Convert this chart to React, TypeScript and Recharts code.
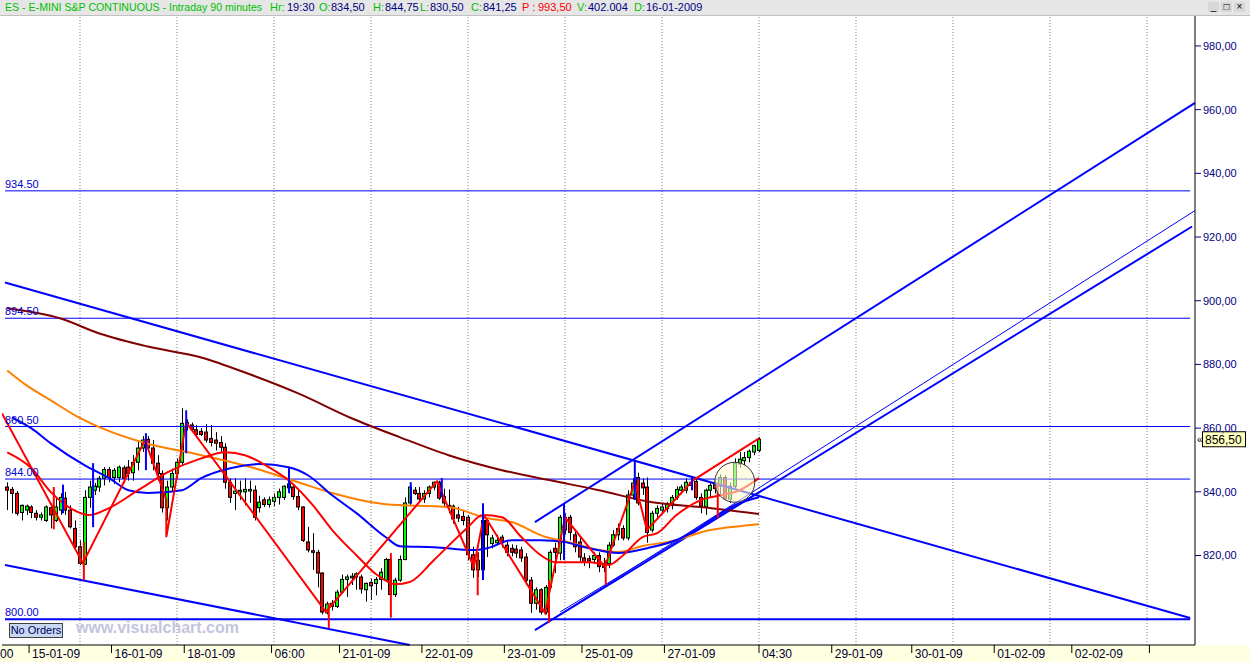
import React from "react";
import {
  ComposedChart,
  Bar,
  Line,
  XAxis,
  YAxis,
  ReferenceLine,
  ReferenceDot,
} from "recharts";

// bar index range and price range of the plot
const X_MIN = -1.08;
const X_MAX = 244.9;
const Y_MIN = 791.9;
const Y_MAX = 989.4;

// ES 90 minute bars
const opens = [
  841.5, 840.75, 839.5, 833.5, 834.25, 835.25, 833.25, 832.0, 831.0, 835.0,
  831.0, 834.25, 838.0, 834.25, 828.5, 822.75, 817.25, 838.25, 840.5, 841.5,
  844.25, 847.0, 844.5, 844.5, 847.5, 847.75, 846.0, 849.25, 853.75, 856.5,
  853.75, 849.0, 845.75, 835.0, 841.5, 845.75, 849.25, 861.75, 861.0, 859.5,
  859.0, 858.75, 856.75, 856.25, 855.5, 854.0, 843.0, 839.5, 840.0, 840.0,
  840.25, 840.5, 835.0, 837.5, 836.0, 837.0, 838.25, 838.25, 841.25, 841.5,
  838.5, 835.25, 824.25, 821.5, 821.0, 814.5, 802.0, 804.0, 804.0, 808.5,
  812.5, 813.0, 813.25, 813.25, 809.25, 811.5, 811.25, 812.5, 812.25, 818.75,
  807.75, 812.25, 818.75, 836.5, 840.5, 839.5, 837.75, 839.5, 841.5, 843.0,
  838.5, 835.75, 835.5, 832.75, 832.25, 832.0, 820.25, 815.5, 815.5, 831.0,
  823.75, 824.0, 825.75, 823.25, 822.25, 822.0, 821.75, 819.5, 812.25, 805.0,
  809.25, 802.25, 810.0, 822.25, 820.75, 832.0, 832.0, 826.5, 824.25, 819.25,
  819.0, 818.75, 820.0, 817.5, 817.5, 823.25, 826.5, 828.5, 825.5, 839.0,
  844.5, 842.75, 841.5, 828.0, 833.25, 834.25, 834.75, 835.75, 838.25, 840.5,
  840.5, 843.0, 843.25, 838.25, 835.25, 840.5, 842.25, 841.75, 844.5, 837.75,
  841.75, 848.75, 849.75, 850.75, 852.5, 853.0,
];
const highs = [
  843.0, 841.5, 840.25, 836.0, 836.0, 835.75, 834.25, 833.5, 835.75, 836.5,
  838.25, 839.5, 840.0, 835.75, 831.0, 824.75, 840.5, 843.5, 842.75, 845.0,
  847.75, 847.75, 847.5, 848.25, 848.25, 850.0, 851.5, 856.25, 857.5, 857.5,
  856.25, 851.5, 846.75, 843.5, 847.25, 850.5, 866.25, 862.75, 861.75, 861.0,
  860.0, 861.25, 861.0, 858.75, 857.5, 855.25, 844.25, 844.25, 843.5, 844.25,
  843.5, 842.0, 838.75, 838.25, 838.5, 839.5, 841.0, 842.0, 843.0, 842.0,
  840.5, 835.5, 829.0, 827.0, 821.75, 814.75, 805.5, 806.0, 809.25, 814.0,
  814.0, 814.5, 814.75, 814.0, 811.5, 812.75, 813.25, 816.0, 819.25, 820.0,
  813.0, 820.0, 838.25, 843.0, 841.5, 841.5, 840.5, 842.0, 843.25, 843.5,
  841.0, 840.75, 836.0, 835.25, 834.25, 832.75, 822.75, 821.0, 834.25, 831.75,
  826.5, 826.5, 826.5, 824.25, 823.5, 823.25, 822.75, 820.75, 813.25, 810.0,
  809.75, 810.75, 821.75, 824.0, 832.75, 833.25, 832.75, 828.0, 825.5, 820.75,
  820.0, 821.0, 821.0, 819.25, 824.25, 828.0, 830.0, 829.5, 840.5, 844.25,
  846.0, 844.25, 844.5, 834.0, 835.75, 836.5, 836.75, 839.0, 841.75, 842.25,
  844.25, 844.25, 844.25, 839.5, 841.0, 843.0, 843.5, 845.5, 845.25, 843.0,
  850.5, 852.5, 852.5, 853.25, 854.75, 857.25,
];
const lows = [
  834.25, 833.25, 832.5, 831.0, 832.75, 831.75, 831.0, 831.0, 830.5, 828.5,
  830.5, 832.75, 832.75, 828.5, 822.25, 817.0, 817.0, 835.0, 839.0, 840.0,
  842.0, 843.0, 842.5, 843.0, 842.75, 843.5, 843.5, 846.75, 852.5, 853.0,
  846.75, 843.5, 833.5, 831.0, 840.0, 844.25, 848.25, 859.25, 858.75, 857.0,
  857.5, 855.5, 854.25, 853.0, 852.5, 841.0, 836.5, 834.25, 837.5, 835.75,
  836.5, 831.0, 833.5, 835.25, 835.0, 835.5, 836.0, 837.5, 839.5, 837.5,
  834.25, 824.25, 821.0, 815.5, 810.0, 801.5, 801.5, 802.75, 803.5, 808.0,
  807.0, 810.75, 809.25, 808.0, 805.5, 806.0, 807.5, 809.25, 811.75, 807.25,
  807.0, 811.75, 818.5, 835.75, 839.0, 836.5, 836.5, 838.25, 840.5, 837.5,
  835.25, 833.25, 830.0, 830.5, 829.5, 818.5, 813.0, 813.25, 814.75, 819.5,
  822.25, 823.25, 822.5, 819.75, 819.75, 819.25, 818.0, 810.75, 802.0, 803.0,
  801.5, 801.5, 809.25, 814.5, 818.5, 826.5, 824.75, 821.0, 818.0, 816.75,
  816.0, 817.5, 814.75, 814.75, 816.0, 822.75, 824.75, 824.75, 824.75, 838.0,
  835.75, 839.0, 824.0, 827.25, 832.0, 833.0, 833.5, 834.5, 837.5, 839.25,
  839.5, 840.5, 837.5, 833.25, 832.75, 838.25, 839.5, 839.0, 837.5, 836.5,
  841.0, 847.5, 848.25, 849.25, 851.5, 852.5,
];
const closes = [
  840.5, 839.5, 833.25, 835.75, 835.5, 833.5, 832.0, 832.75, 835.25, 832.75,
  835.25, 838.25, 834.25, 829.0, 822.75, 817.5, 838.25, 841.5, 841.75, 844.25,
  847.0, 844.5, 846.75, 847.75, 844.25, 845.75, 849.25, 853.75, 856.25, 853.75,
  849.0, 845.75, 835.0, 841.5, 845.75, 849.25, 861.5, 860.5, 859.5, 858.0,
  858.0, 856.25, 855.5, 855.25, 854.0, 843.0, 838.25, 840.25, 840.5, 840.75,
  840.75, 832.0, 836.75, 836.0, 837.5, 838.25, 840.0, 841.75, 842.5, 838.5,
  835.25, 824.75, 821.75, 821.0, 814.5, 802.25, 804.75, 805.0, 808.5, 812.5,
  813.25, 813.5, 814.25, 809.5, 811.25, 810.5, 812.5, 814.75, 818.75, 807.75,
  812.25, 818.75, 836.5, 841.5, 839.5, 837.75, 839.5, 841.5, 843.0, 838.0,
  836.5, 835.25, 831.5, 831.75, 831.0, 820.25, 815.5, 818.5, 831.0, 826.5,
  825.5, 824.75, 824.0, 821.0, 821.0, 820.75, 819.25, 812.25, 805.0, 809.25,
  802.25, 810.0, 821.0, 821.0, 832.0, 828.0, 827.25, 822.75, 819.5, 818.0,
  818.25, 820.0, 816.5, 816.25, 823.25, 826.5, 828.5, 825.5, 839.0, 842.75,
  836.5, 841.25, 827.25, 833.25, 834.75, 835.25, 836.0, 838.25, 840.75, 841.5,
  843.0, 842.0, 838.25, 835.5, 840.5, 842.0, 841.0, 844.5, 838.0, 841.75,
  849.0, 850.25, 850.75, 852.75, 854.5, 856.5,
];

// moving averages, sampled at bar index
const redMaIdx = [0, 5, 9, 13, 17, 21, 27, 33, 40, 45, 49, 54, 58, 63, 67, 72, 76, 80, 83, 88, 95, 98, 102, 106, 110, 113, 120, 124, 127, 131, 134, 138, 143, 147, 151, 155];
const redMaVal = [852.4, 847.4, 839.9, 834.9, 832.7, 834.9, 840.5, 846.1, 850.5, 852.4, 851.5, 847.7, 843.6, 835.8, 828.0, 820.1, 814.2, 811.0, 811.7, 818.6, 828.9, 832.7, 832.0, 825.8, 820.1, 817.9, 817.9, 817.0, 820.1, 825.8, 827.0, 832.7, 837.4, 838.9, 840.5, 844.3];
const blueMaIdx = [1, 5, 9, 16, 21, 25, 29, 36, 40, 46, 52, 58, 62, 67, 72, 78, 81, 88, 96, 99, 104, 110, 115, 120, 126, 132, 139, 145, 150, 155];
const blueMaVal = [863.4, 859.9, 855.2, 848.3, 844.3, 840.5, 839.6, 840.5, 844.3, 847.4, 848.7, 847.7, 845.2, 838.9, 833.3, 825.8, 822.9, 822.6, 821.7, 822.3, 824.8, 824.8, 824.2, 822.3, 820.8, 822.3, 825.5, 831.1, 835.8, 838.3];
const orangeMaIdx = [0, 4, 9, 14, 19, 28, 40, 51, 60, 67, 78, 91, 99, 104, 111, 115, 122, 126, 131, 137, 145, 151, 155];
const orangeMaVal = [878.1, 873.4, 868.7, 864.0, 860.3, 855.5, 851.5, 847.4, 843.0, 839.6, 836.1, 835.2, 831.7, 830.5, 825.8, 824.5, 821.7, 821.1, 823.0, 824.5, 828.0, 829.2, 829.8];
const brownMaIdx = [0, 11, 19, 29, 40, 50, 60, 71, 81, 91, 102, 112, 122, 133, 143, 155];
const brownMaVal = [897.6, 894.4, 889.7, 885.6, 882.2, 876.9, 870.9, 863.1, 857.1, 851.5, 846.8, 843.6, 840.5, 836.7, 835.2, 833.0];

// zigzag pivots
const zigIdx = [X_MIN, 15.6, 28.4, 32.8, 32.8, 36.9, 65.7, 88.6, 96.2, 98.3, 110.9, 115, 123.2, 129.4, 131.9, 141.4, 155];
const zigVal = [864.6, 817.6, 856.2, 837.5, 825.75, 861.8, 802.3, 843.3, 816.4, 832.7, 801.9, 832.0, 816.4, 843.0, 828.0, 843.6, 856.8];

// vertical marker spikes
const redSpikeIdx = [9.6, 15.8, 66.3, 79.1, 97, 111.7, 123.4, 146.5];
const redSpikeTop = [841.5, 824.25, 805.0, 820.75, 821.0, 812.25, 818.5, 843.0];
const redSpikeBot = [828.25, 812.25, 797.25, 800.5, 807.5, 799.0, 810.75, 831.75];
const blueSpikeIdx = [11.5, 17.7, 28.6, 36.9, 58.1, 83.2, 89.6, 98.1, 114.8, 129.4, 141.2];
const blueSpikeTop = [842.25, 849.0, 858.4, 865.6, 847.5, 843.0, 844.3, 836.4, 836.4, 849.9, 844.6];
const blueSpikeBot = [833.25, 828.9, 846.8, 852.1, 839.6, 836.4, 838.3, 812.3, 818.6, 837.4, 840.5];

// horizontal levels
const levels = [934.5, 894.5, 860.5, 844.0, 800.0];
const levelLabels = ["934.50", "894.50", "860.50", "844.00", "800.00"];
const LEVEL_FROM = -0.46;
const LEVEL_TO = 243.9;

// trend lines: start index/price, end index/price, width
const trendX1 = [-0.46, -0.46, 108.8, 108.8, 111.5, 114];
const trendY1 = [905.7, 817.0, 830.5, 796.6, 799.1, 802.3];
const trendX2 = [243.9, 83.0, 244.9, 244.3, 244.9, 156.2];
const trendY2 = [800.4, 791.9, 962.1, 923.3, 928.3, 841.1];
const trendW = [2, 2, 2, 2, 1, 1];

const gridIdx = [15, 35, 55, 75, 95, 115, 135, 155, 175, 195, 215, 235];
const priceTicks = [820, 840, 860, 880, 900, 920, 940, 960, 980];
const dayTicks = [X_MIN, 4.5, 21.5, 36.5, 54.5, 68.5, 85.5, 102.5, 118.5, 135.5, 155, 170, 186.5, 203.5, 219.5, 235.5];
const dayLabels = ["00", "15-01-09", "16-01-09", "18-01-09", "06:00", "21-01-09", "22-01-09", "23-01-09", "25-01-09", "27-01-09", "04:30", "29-01-09", "30-01-09", "01-02-09", "02-02-09", ""];

const candles = opens.map((o, i) => ({
  i,
  o,
  h: highs[i],
  l: lows[i],
  c: closes[i],
  range: [lows[i], highs[i]],
}));
const pts = (idx: number[], val: number[]) => idx.map((i, k) => ({ i, v: val[k] }));
const lastClose = closes[closes.length - 1];

const Candle = (props: any) => {
  const { x, y, width, height, payload } = props;
  const { o, h, l, c } = payload;
  const top = Math.min(y, y + height);
  const bot = Math.max(y, y + height);
  const ppu = (bot - top) / (h - l || 1);
  const py = (v: number) => top + (h - v) * ppu;
  const cx = Math.round(x + width / 2) + 0.5;
  const bTop = py(Math.max(o, c));
  const bBot = py(Math.min(o, c));
  return (
    <g>
      <line x1={cx} x2={cx} y1={top} y2={bot} stroke="#000" strokeWidth={1} />
      <rect
        x={cx - 2}
        y={bTop}
        width={3}
        height={Math.max(bBot - bTop, 1)}
        fill={c >= o ? "#00ff00" : "#ff0000"}
        stroke="#000"
        strokeWidth={1}
      />
    </g>
  );
};

const DayTick = (props: any) => {
  const { x, y, index } = props;
  const label = dayLabels[index];
  if (index === 0) {
    return (
      <text x={x - 2} y={y + 13} fontSize={12} fill="#000033" fontFamily="Liberation Sans Narrow, Arial Narrow, Arial">
        {label}
      </text>
    );
  }
  return (
    <g>
      <line x1={x} x2={x} y1={y} y2={y + 8} stroke="#000" />
      <text x={x + 3} y={y + 13} fontSize={12} fill="#000033" fontFamily="Liberation Sans Narrow, Arial Narrow, Arial">
        {label}
      </text>
    </g>
  );
};

const header: [number, string, string][] = [
  [5, "ES - E-MINI S&P CONTINUOUS - Intraday 90 minutes", "#00c000"],
  [270, "Hr:", "#00c000"],
  [287, "19:30", "#000080"],
  [319, "O:", "#00c000"],
  [331, "834,50", "#000080"],
  [373, "H:", "#00c000"],
  [385, "844,75", "#000080"],
  [420, "L:", "#00c000"],
  [430, "830,50", "#000080"],
  [471, "C:", "#00c000"],
  [483, "841,25", "#000080"],
  [522, "P :", "#ff0000"],
  [538, "993,50", "#ff0000"],
  [577, "V:", "#00c000"],
  [588, "402.004", "#000080"],
  [634, "D:", "#00c000"],
  [646, "16-01-2009", "#000080"],
];

export default function App() {
  return (
    <div
      style={{
        position: "absolute",
        left: 0,
        top: 0,
        width: 1250,
        height: 662,
        background: "#fff",
        overflow: "hidden",
        fontFamily: "Arial, 'Liberation Sans', sans-serif",
      }}
    >
      <div
        style={{
          position: "absolute",
          left: 0,
          top: 0,
          width: 1250,
          height: 15,
          background: "#e6e6e6",
          borderBottom: "1px solid #c0c0c0",
        }}
      >
        {header.map(([left, text, color], k) => (
          <span
            key={k}
            style={{
              position: "absolute",
              left,
              top: 1,
              fontSize: k === 0 ? 10.6 : 11,
              lineHeight: "13px",
              color,
              whiteSpace: "nowrap",
            }}
          >
            {text}
          </span>
        ))}
        {["_", "□", "×"].map((s, k) => (
          <span
            key={s}
            style={{
              position: "absolute",
              left: 1208 + k * 13,
              top: 2,
              width: 11,
              height: 10,
              fontSize: 10,
              lineHeight: "10px",
              textAlign: "center",
              color: "#000",
              background: "#d8d8d8",
            }}
          >
            {s}
          </span>
        ))}
      </div>
      <div
        style={{
          position: "absolute",
          left: 0,
          top: 645,
          width: 1250,
          height: 17,
          background: "#ffffe1",
        }}
      />
      <div style={{ position: "absolute", left: 0, top: 0 }}>
        <ComposedChart
          width={1250}
          height={662}
          data={candles}
          margin={{ top: 16, right: 0, bottom: 0, left: 2 }}
        >
          <XAxis
            type="number"
            dataKey="i"
            domain={[X_MIN, X_MAX]}
            allowDataOverflow
            ticks={dayTicks}
            interval={0}
            height={17}
            tickSize={0}
            tickMargin={0}
            tickLine={false}
            axisLine={{ stroke: "#000" }}
            tick={<DayTick />}
          />
          <YAxis
            orientation="right"
            type="number"
            domain={[Y_MIN, Y_MAX]}
            allowDataOverflow
            ticks={priceTicks}
            width={55}
            tickSize={6}
            tickMargin={2}
            axisLine={{ stroke: "#000" }}
            tickLine={{ stroke: "#000080" }}
            tick={{ fill: "#000080", fontSize: 11, fontFamily: "Arial, 'Liberation Sans'" }}
            tickFormatter={(v: number) => v.toFixed(2).replace(".", ",")}
          />
          {gridIdx.map((g) => (
            <ReferenceLine key={"g" + g} x={g} stroke="#808080" strokeDasharray="1 2" />
          ))}
          {levels.map((v, k) => (
            <ReferenceLine
              key={"lv" + k}
              segment={[
                { x: LEVEL_FROM, y: v },
                { x: LEVEL_TO, y: v },
              ]}
              stroke="#0000ff"
              strokeWidth={v === 800 ? 2 : 1}
              ifOverflow="visible"
            />
          ))}
          {levels.map((v, k) => (
            <ReferenceDot
              key={"ll" + k}
              x={LEVEL_FROM}
              y={v}
              r={0}
              ifOverflow="visible"
              shape={(p: any) => (
                <text x={p.cx} y={p.cy - 3} fontSize={11} fill="#0000cc" fontFamily="Arial, 'Liberation Sans'">
                  {levelLabels[k]}
                </text>
              )}
            />
          ))}
          <ReferenceDot
            x={150}
            y={843}
            r={20}
            fill="#fffbd0"
            fillOpacity={0.6}
            stroke="#333"
            strokeWidth={1}
          />
          <Bar
            dataKey="range"
            barSize={4}
            shape={<Candle />}
            isAnimationActive={false}
          />
          {trendX1.map((x1, k) => (
            <ReferenceLine
              key={"t" + k}
              segment={[
                { x: x1, y: trendY1[k] },
                { x: trendX2[k], y: trendY2[k] },
              ]}
              stroke="#0000ff"
              strokeWidth={trendW[k]}
              ifOverflow="visible"
            />
          ))}
          <Line data={pts(brownMaIdx, brownMaVal)} dataKey="v" type="monotone" stroke="#800000" strokeWidth={2} dot={false} isAnimationActive={false} />
          <Line data={pts(orangeMaIdx, orangeMaVal)} dataKey="v" type="monotone" stroke="#ff8000" strokeWidth={2} dot={false} isAnimationActive={false} />
          <Line data={pts(blueMaIdx, blueMaVal)} dataKey="v" type="monotone" stroke="#0000ff" strokeWidth={2} dot={false} isAnimationActive={false} />
          <Line data={pts(redMaIdx, redMaVal)} dataKey="v" type="monotone" stroke="#ff0000" strokeWidth={2} dot={false} isAnimationActive={false} />
          <Line data={pts(zigIdx, zigVal)} dataKey="v" type="linear" stroke="#ff0000" strokeWidth={2} dot={false} isAnimationActive={false} />
          {redSpikeIdx.map((x, k) => (
            <ReferenceLine
              key={"rs" + k}
              segment={[
                { x, y: redSpikeTop[k] },
                { x, y: redSpikeBot[k] },
              ]}
              stroke="#ff0000"
              strokeWidth={2}
              ifOverflow="visible"
            />
          ))}
          {blueSpikeIdx.map((x, k) => (
            <ReferenceLine
              key={"bs" + k}
              segment={[
                { x, y: blueSpikeTop[k] },
                { x, y: blueSpikeBot[k] },
              ]}
              stroke="#0000ff"
              strokeWidth={2}
              ifOverflow="visible"
            />
          ))}
          <ReferenceDot
            x={X_MAX}
            y={lastClose}
            r={0}
            ifOverflow="visible"
            shape={(p: any) => (
              <g>
                <text x={p.cx + 2} y={p.cy + 4} fontSize={10} fill="#000">«</text>
                <rect x={p.cx + 7.5} y={p.cy - 7.5} width={43} height={15} fill="#ffffc0" stroke="#000" />
                <text x={p.cx + 10} y={p.cy + 5} fontSize={12} fill="#000" fontFamily="Arial, 'Liberation Sans'">
                  {lastClose.toFixed(2).replace(".", ",")}
                </text>
              </g>
            )}
          />
        </ComposedChart>
      </div>
      <div
        style={{
          position: "absolute",
          left: 9,
          top: 623,
          width: 52,
          height: 13,
          border: "1px solid #404040",
          background: "#c8d8f0",
          fontSize: 11,
          lineHeight: "13px",
          color: "#000060",
          textAlign: "center",
        }}
      >
        No Orders
      </div>
      <div
        style={{
          position: "absolute",
          left: 76,
          top: 619,
          fontSize: 16,
          fontWeight: "bold",
          color: "#c4c4dc",
          whiteSpace: "nowrap",
        }}
      >
        www.visualchart.com
      </div>
    </div>
  );
}
